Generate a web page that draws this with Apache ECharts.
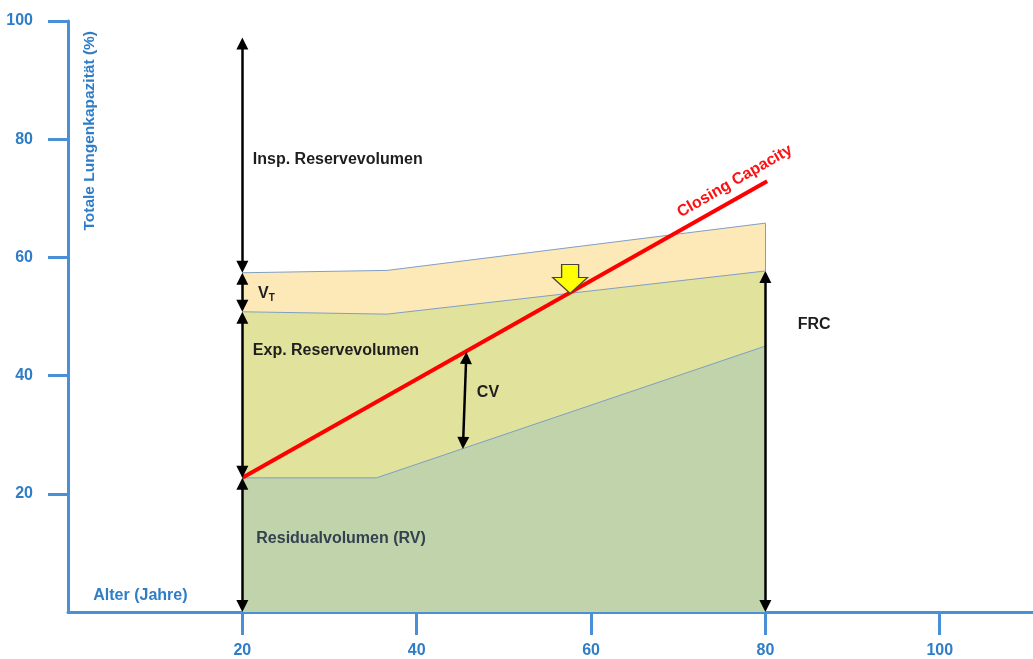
<!DOCTYPE html>
<html>
<head>
<meta charset="utf-8">
<script src="https://cdn.jsdelivr.net/npm/echarts@6/dist/echarts.min.js"></script>
<style>
  html, body { margin: 0; padding: 0; background: #fff; }
  #main { width: 1033px; height: 659px; }
</style>
</head>
<body>
<div id="main"></div>
<script>
// Werte (x = Alter in Jahren, y = % der TLC)
var xTicks = [20, 40, 60, 80, 100]
var yTicks = [20, 40, 60, 80, 100]

var vtTop = [[20, 57.4], [36.6, 57.8], [80, 65.8]]
var frcTop = [[20, 50.8], [36.6, 50.4], [80, 57.7]]
var rvTop = [[20, 22.7], [35.4, 22.7], [80, 45.0]]
var closingCapacity = [[20, 22.7], [80.2, 72.9]]

// Doppelpfeile
var arrowSegments = [
  [[20, 97.2], [20, 57.4]],
  [[20, 57.4], [20, 50.8]],
  [[20, 50.8], [20, 22.7]],
  [[20, 22.7], [20, 0]],
  [[80, 0], [80, 57.7]],
  [[45.7, 44.0], [45.3, 27.6]]
]
var rightEdge = [[80, 57.7], [80, 65.8]]

// gelber Pfeil (Spitze)
var vtMarker = [57.6, 53.9]

// Beschriftungen [text, x, y]
var labels = [
  ['Insp. Reservevolumen', 21.2, 76.6],
  ['VT', 21.8, 53.8],
  ['Exp. Reservevolumen', 21.2, 44.3],
  ['CV', 46.9, 37.2],
  ['Residualvolumen (RV)', 21.6, 12.4],
  ['FRC', 83.7, 48.6],
  ['Alter (Jahre)', 2.9, 2.7]
]
var ccLabel = ['Closing Capacity', 76.5, 72.9]

var BLUE = '#4a90d6'
var BLUE_TEXT = '#2f7dc6'
var FONT = "'Liberation Sans', Arial, sans-serif"
var FS = 16
var HEAD = 12

var chart = echarts.init(document.getElementById('main'))

function band(data, fill, z) {
  return {
    type: 'line',
    data: data,
    showSymbol: false,
    silent: true,
    z: z,
    lineStyle: { color: '#7f9fc2', width: 1 },
    areaStyle: { color: fill, opacity: 1 }
  }
}

function txt(color, size) {
  return { color: color, fontSize: size || FS, fontWeight: 'bold', fontFamily: FONT }
}

var option = {
  animation: false,
  grid: { left: 68, right: 0, top: 21, bottom: 46 },
  xAxis: {
    type: 'value',
    min: 0,
    max: 110.7,
    splitLine: { show: false },
    axisLine: { lineStyle: { color: BLUE, width: 3 } },
    axisTick: { customValues: xTicks, length: 23, lineStyle: { color: BLUE, width: 3 } },
    axisLabel: Object.assign({ customValues: xTicks, margin: 31 }, txt(BLUE_TEXT, 16))
  },
  yAxis: {
    type: 'value',
    min: 0,
    max: 100,
    splitLine: { show: false },
    axisLine: { lineStyle: { color: BLUE, width: 3 } },
    axisTick: { customValues: yTicks, length: 20, lineStyle: { color: BLUE, width: 3 } },
    axisLabel: Object.assign({ customValues: yTicks, margin: 35 }, txt(BLUE_TEXT, 16))
  },
  graphic: [{
    type: 'text',
    x: 90,
    y: 31,
    rotation: Math.PI / 2,
    style: {
      text: 'Totale Lungenkapazität (%)',
      fill: BLUE_TEXT,
      font: 'bold 15.5px ' + FONT,
      align: 'right',
      verticalAlign: 'middle'
    }
  }],
  series: [
    band(vtTop, '#fde8b8', 1),
    band(frcTop, '#e1e39d', 2),
    band(rvTop, '#c0d3ab', 3),
    {
      type: 'lines',
      coordinateSystem: 'cartesian2d',
      silent: true,
      z: 3,
      lineStyle: { color: '#7f9fc2', width: 1, opacity: 1 },
      data: [{ coords: rightEdge }]
    },
    {
      type: 'line',
      data: closingCapacity,
      showSymbol: false,
      silent: true,
      z: 5,
      lineStyle: { color: '#ff0000', width: 4 }
    },
    {
      id: 'arrows',
      type: 'lines',
      coordinateSystem: 'cartesian2d',
      silent: true,
      z: 6,
      symbol: ['triangle', 'triangle'],
      symbolSize: HEAD,
      lineStyle: { color: '#000', width: 2.5, opacity: 1 },
      data: arrowSegments.map(function (s) { return { coords: s } })
    },
    {
      type: 'scatter',
      data: [vtMarker],
      silent: true,
      z: 7,
      symbol: 'path://M9,0L26,0L26,13L35,13L17.5,29L0,13L9,13Z',
      symbolSize: [35, 29],
      symbolOffset: [0, -14.5],
      itemStyle: { color: '#ffff00', borderColor: '#444', borderWidth: 1.2, opacity: 1 }
    },
    {
      type: 'scatter',
      silent: true,
      z: 8,
      symbolSize: 0,
      itemStyle: { opacity: 1 },
      data: labels.map(function (l) {
        return { name: l[0], value: [l[1], l[2]] }
      }),
      label: {
        show: true,
        position: 'right',
        distance: 0,
        formatter: function (p) {
          if (p.name === 'VT') return '{v|V}{t|T}'
          var key = p.name === 'Residualvolumen (RV)' ? 'rv' : p.name === 'Alter (Jahre)' ? 'ax' : 'n'
          return '{' + key + '|' + p.name + '}'
        },
        rich: {
          n: txt('#1e1e1e'),
          rv: txt('#34414f'),
          ax: txt(BLUE_TEXT),
          v: txt('#1e1e1e'),
          t: Object.assign(txt('#1e1e1e', 10), { padding: [8, 0, 0, 0] })
        }
      }
    },
    {
      type: 'scatter',
      silent: true,
      z: 8,
      symbolSize: 0,
      itemStyle: { opacity: 1 },
      data: [{ name: ccLabel[0], value: [ccLabel[1], ccLabel[2]] }],
      label: Object.assign({
        show: true,
        position: 'inside',
        rotate: 30,
        formatter: '{b}'
      }, txt('#ff1010', 16))
    }
  ]
}

chart.setOption(option)

// Pfeilspitzen sitzen mittig auf dem Endpunkt -> Segmente um eine halbe Spitze kürzen
function shorten(seg) {
  var a = chart.convertToPixel({ gridIndex: 0 }, seg[0])
  var b = chart.convertToPixel({ gridIndex: 0 }, seg[1])
  var dx = b[0] - a[0], dy = b[1] - a[1]
  var len = Math.sqrt(dx * dx + dy * dy)
  var ux = dx / len * HEAD / 2, uy = dy / len * HEAD / 2
  return [
    chart.convertFromPixel({ gridIndex: 0 }, [a[0] + ux, a[1] + uy]),
    chart.convertFromPixel({ gridIndex: 0 }, [b[0] - ux, b[1] - uy])
  ]
}

chart.setOption({
  series: [{
    id: 'arrows',
    data: arrowSegments.map(function (s) { return { coords: shorten(s) } })
  }]
})
</script>
</body>
</html>
